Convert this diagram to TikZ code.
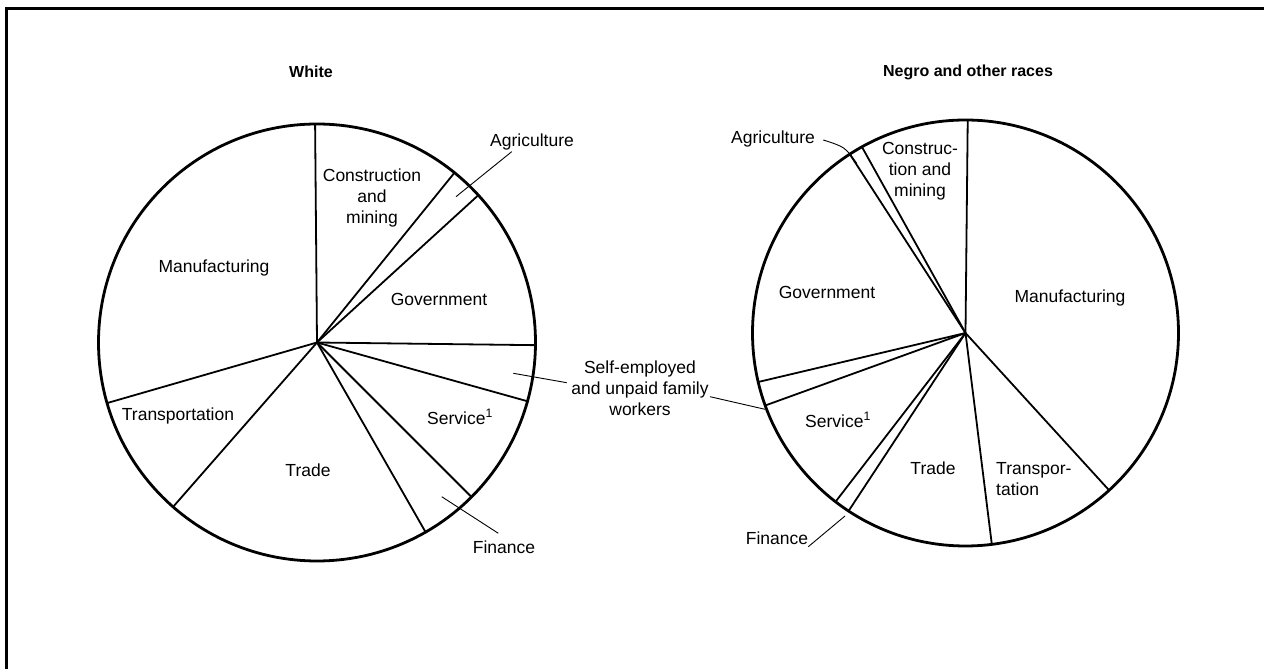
\documentclass[tikz,border=0pt]{standalone}
\usepackage{fontspec}
\setmainfont{Liberation Sans}
\begin{document}
\begin{tikzpicture}[x=1pt,y=1pt,
  lbl/.style={font=\fontsize{17.5}{21}\selectfont, align=center, inner sep=0pt},
  ttl/.style={font=\fontsize{16}{19}\bfseries\selectfont, inner sep=0pt},
  rim/.style={line width=2.8pt},
  rad/.style={line width=1.8pt},
  lead/.style={line width=0.9pt}]
\useasboundingbox (0,0) rectangle (1264,669);
% frame
\coordinate (ftr) at (1264,660);
\coordinate (ftl) at (6,660);
\coordinate (fbl) at (6,0);
\draw[line width=3pt] (ftr) -- (ftl) -- (fbl);

% ---------- White pie ----------
\coordinate (W) at (317,326.5);
\draw[rim] (W) circle[radius=218.5];
\foreach \a in {90.5,51,42.4,-0.7,-15.6,-45,-60.2,-131.2,-163.9}
  \draw[rad] (W) -- ++(\a:218.5);

\node[ttl] (wtitle) at (311,597) {White};
\node[lbl] (wcon) at (372,471) {Construction\\and\\mining};
\node[lbl] (wagr) at (532,527) {Agriculture};
\node[lbl] (wman) at (214,401) {Manufacturing};
\node[lbl] (wgov) at (439,370) {Government};
\node[lbl] (wser) at (460,252) {Service\textsuperscript{1}};
\node[lbl] (wtra) at (178,253) {Transportation};
\node[lbl] (wtrd) at (308,199) {Trade};
\node[lbl] (wfin) at (504,122) {Finance};

\coordinate (wagrA) at (511.7,517.3);
\coordinate (wagrB) at (456,472.3);
\draw[lead] (wagrA) -- (wagrB);
\coordinate (wfinA) at (498.3,135.7);
\coordinate (wfinB) at (441.7,172.3);
\draw[lead] (wfinA) -- (wfinB);

% ---------- Self-employed label ----------
\node[lbl] (self) at (640,281) {Self-employed\\and unpaid family\\workers};
\coordinate (sA) at (566.7,286.3);
\coordinate (sB) at (513.3,295.7);
\draw[lead] (sA) -- (sB);
\coordinate (sC) at (710,272.3);
\coordinate (sD) at (765,259.7);
\draw[lead] (sC) -- (sD);

% ---------- Negro and other races pie ----------
\coordinate (N) at (965.5,336);
\draw[rim] (N) circle[radius=213];
\foreach \a in {89.4,119.1,122.9,193.3,199.9,232.4,236.7,277.1,-47.6}
  \draw[rad] (N) -- ++(\a:213);

\node[ttl] (ntitle) at (968,597) {Negro and other races};
\node[lbl] (nagr) at (773,530) {Agriculture};
\node[lbl] (ncon) at (920,498) {Construc-\\tion and\\mining};
\node[lbl] (ngov) at (827,377) {Government};
\node[lbl] (nman) at (1070,371) {Manufacturing};
\node[lbl] (nser) at (838,249) {Service\textsuperscript{1}};
\node[lbl] (ntrd) at (933,201) {Trade};
\node[lbl, align=left, anchor=west] (ntra) at (996,189.5) {Transpor-\\tation};
\node[lbl] (nfin) at (777,131) {Finance};

\coordinate (nagrA) at (823.3,529);
\coordinate (nagrB) at (856.7,505.7);
\draw[lead] (nagrA) .. controls (845,522) .. (nagrB);
\coordinate (nfinA) at (808.3,122.3);
\coordinate (nfinB) at (845,153);
\draw[lead] (nfinA) -- (nfinB);
\end{tikzpicture}
\end{document}
